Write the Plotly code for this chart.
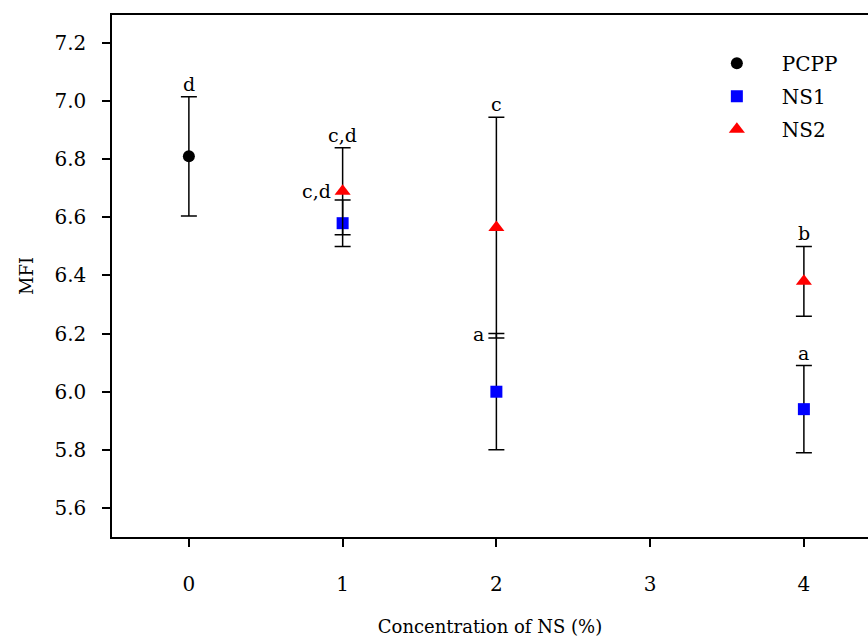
import plotly.graph_objects as go

# Data
pcpp_x = [0]
pcpp_y = [6.81]
pcpp_err = [0.205]

ns1_x = [1, 2, 4]
ns1_y = [6.58, 6.00, 5.94]
ns1_err = [0.08, 0.20, 0.15]

ns2_x = [1, 2, 4]
ns2_y = [6.69, 6.565, 6.38]
ns2_err = [0.15, 0.38, 0.12]

# significance letters
letters_x = [0, 1, 1, 2, 2, 4, 4]
letters_y = [7.015, 6.84, 6.69, 6.945, 6.20, 6.50, 6.09]
letters_text = ["d", "c,d", "c,d", "c", "a", "b", "a"]
letters_side = ["top", "top", "left", "top", "left", "top", "top"]

x_ticks = [0, 1, 2, 3, 4]
y_ticks = [5.6, 5.8, 6.0, 6.2, 6.4, 6.6, 6.8, 7.0, 7.2]

FONT = "DejaVu Serif, serif"

fig = go.Figure()

def eb(vals):
    return dict(type="data", array=vals, visible=True, color="black", thickness=1.5, width=8)

fig.add_trace(go.Scatter(x=pcpp_x, y=pcpp_y, mode="markers", name="PCPP",
                         error_y=eb(pcpp_err), legendgroup="a",
                         marker=dict(symbol="circle", size=12, color="black")))
fig.add_trace(go.Scatter(x=ns1_x, y=ns1_y, mode="markers", name="NS1",
                         error_y=eb(ns1_err), legendgroup="b",
                         marker=dict(symbol="square", size=12, color="#0000ff")))
fig.add_trace(go.Scatter(x=ns2_x, y=ns2_y, mode="markers", name="NS2",
                         error_y=eb(ns2_err), legendgroup="c",
                         marker=dict(symbol="triangle-up", size=14, color="#ff0000")))

for x, y, t, s in zip(letters_x, letters_y, letters_text, letters_side):
    if s == "top":
        fig.add_annotation(x=x, y=y, text=t, showarrow=False, xanchor="center",
                           yanchor="bottom", yshift=0,
                           font=dict(family=FONT, size=19, color="black"))
    else:
        fig.add_annotation(x=x, y=y, text=t, showarrow=False, xanchor="right",
                           yanchor="middle", xshift=-10, yshift=0,
                           font=dict(family=FONT, size=19, color="black"))

fig.update_layout(
    width=868, height=637,
    margin=dict(l=112, r=0, t=15, b=100),
    plot_bgcolor="white", paper_bgcolor="white",
    font=dict(family=FONT, size=20, color="black"),
    showlegend=True,
    legend=dict(x=0.767, y=0.945, xanchor="left", yanchor="top",
                bgcolor="rgba(0,0,0,0)", borderwidth=0,
                font=dict(family=FONT, size=20, color="black"),
                tracegroupgap=4, itemwidth=80),
    xaxis=dict(range=[-0.5, 4.417], tickvals=x_ticks, ticktext=[str(v) for v in x_ticks],
               showline=True, linecolor="black", linewidth=1.5, mirror=True,
               ticks="outside", ticklen=8, tickwidth=1.5, tickcolor="black",
               showgrid=False, zeroline=False, ticklabelstandoff=20,
               tickfont=dict(family=FONT, size=20),
               title=dict(text="Concentration of NS (%)", standoff=26,
                          font=dict(family=FONT, size=18))),
    yaxis=dict(range=[5.5, 7.2965], tickvals=y_ticks, ticktext=[f"{v:.1f}" for v in y_ticks],
               showline=True, linecolor="black", linewidth=1.5, mirror=False,
               ticks="outside", ticklen=8, tickwidth=1.5, tickcolor="black",
               showgrid=False, zeroline=False, ticklabelstandoff=12,
               tickfont=dict(family=FONT, size=20),
               title=dict(text="MFI", standoff=16, font=dict(family=FONT, size=18))),
)

fig.write_html("out.html")
